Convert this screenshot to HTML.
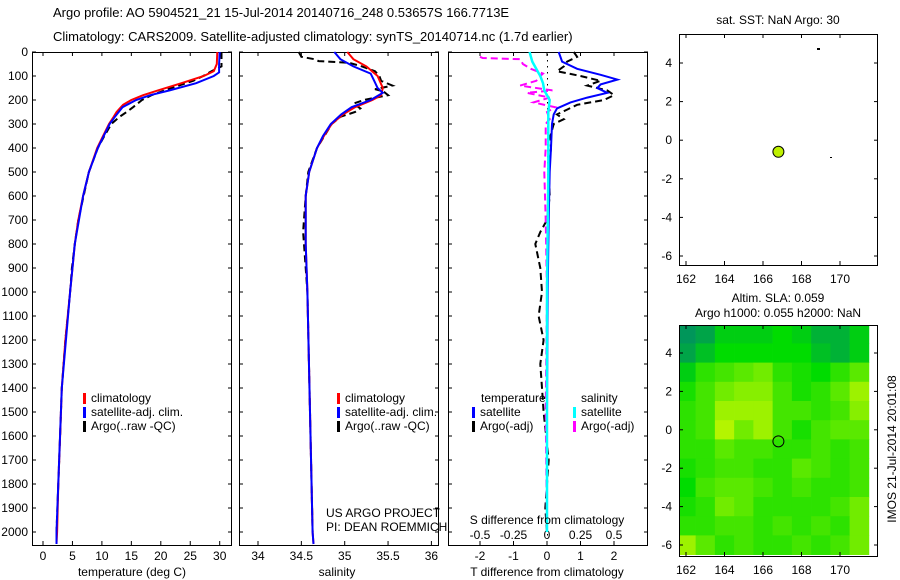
<!DOCTYPE html>
<html><head><meta charset="utf-8"><style>
html,body{margin:0;padding:0;background:#fff;}
svg{display:block;font-family:"Liberation Sans",sans-serif;}
</style></head><body>
<svg id="c" width="900" height="580" xmlns="http://www.w3.org/2000/svg"></svg>
<script>
// ---- data ----
const depthTicks=[0,100,200,300,400,500,600,700,800,900,1000,1100,1200,1300,1400,1500,1600,1700,1800,1900,2000];
const tTicks=[0,5,10,15,20,25,30];
const sTicks=[34,34.5,35,35.5,36];
const tdTicks=[-2,-1,0,1,2];
const sdTicks=[-0.5,-0.25,0,0.25,0.5];
const sdTickLabels=["-0.5","-0.25","0","0.25","0.5"];
const latTicks=[4,2,0,-2,-4,-6];
const lonTicks=[162,164,166,168,170];

const tClimD=[0,50,80,100,130,160,180,200,220,250,270,300,350,400,450,500,600,700,800,900,1000,1200,1400,1600,1800,2000,2050];
const tClimV=[29.6,29.5,29.0,27.3,23.5,19.5,17.0,15.0,13.6,12.5,12.0,11.2,10.2,9.2,8.5,7.8,6.8,6.0,5.4,5.0,4.6,3.8,3.2,2.9,2.6,2.4,2.3];
const tSatD=[0,50,85,100,130,160,180,200,230,270,300,350,400,500,600,800,1000,1400,2000,2050];
const tSatV=[30.0,29.9,29.9,29.0,26.0,21.5,18.2,15.8,13.5,12.2,11.3,10.3,9.3,7.8,6.8,5.4,4.6,3.2,2.3,2.3];
const tArgD=[0,60,80,100,120,150,180,200,230,250,270,300,350,400,500,600,700,800,900,1000,1200,1400,1600,1800,2000];
const tArgV=[30.3,30.3,28.6,27.2,25.5,21.8,18.4,16.8,15.3,14.2,13.0,11.6,10.4,9.3,7.8,6.9,6.0,5.4,4.9,4.6,3.8,3.2,2.9,2.6,2.3];

const sClimD=[0,30,60,100,150,180,200,230,260,300,350,400,500,600,800,1000,1500,2000,2050];
const sClimV=[35.03,35.10,35.25,35.38,35.44,35.42,35.32,35.12,34.98,34.85,34.76,34.68,34.59,34.55,34.55,34.57,34.60,34.63,34.64];
const sSatD=[0,30,60,90,120,150,170,200,230,260,300,350,400,500,600,800,1000,1500,2000,2050];
const sSatV=[34.88,34.95,35.1,35.3,35.34,35.38,35.44,35.3,35.08,34.96,34.84,34.75,34.68,34.59,34.55,34.55,34.57,34.60,34.63,34.64];
const sArgD=[0,20,30,38,45,60,80,100,120,140,155,165,180,200,215,235,250,270,300,400,500,600,750,800,1000,1500,2000];
const sArgV=[34.47,34.5,34.65,34.7,35.05,35.2,35.35,35.4,35.42,35.55,35.35,35.45,35.5,35.22,35.1,35.18,35.12,34.95,34.85,34.68,34.58,34.55,34.52,34.53,34.57,34.6,34.63];

const dTSatD=[0,40,70,95,115,135,150,170,190,210,235,260,300,400,500,700,1000,1500,2000];
const dTSatV=[0.35,0.45,0.9,1.6,2.1,1.6,1.5,1.8,1.2,0.7,0.3,0.2,0.15,0.12,0.08,0.05,0.02,0.0,0.0];
const dTArgD=[0,20,40,60,80,100,120,140,160,180,200,220,240,260,280,300,350,400,500,600,700,750,800,900,1000,1100,1200,1300,1400,1500,1700,1900,2000];
const dTArgV=[0.8,0.9,0.6,0.5,0.3,1.0,1.6,1.2,1.8,2.0,1.7,0.9,0.6,0.3,0.5,0.2,0.1,0.12,0.05,0.08,0.0,-0.2,-0.35,-0.2,-0.15,-0.25,-0.1,-0.2,-0.15,-0.1,0.05,-0.05,0.0];
const dSSatD=[0,20,40,60,80,100,130,160,200,250,300,500,1000,2000];
const dSSatV=[-0.13,-0.12,-0.11,-0.09,-0.07,-0.05,-0.03,-0.02,0.02,0.01,0.01,0.01,0.0,0.0];
const dSArgD=[20,25,30,50,70,90,100,120,140,160,170,190,210,230,250,280,300,400,500,700,1000,1500,2000];
const dSArgV=[-0.5,-0.48,-0.2,-0.18,-0.12,-0.03,-0.05,-0.08,-0.2,0.04,-0.15,0.02,-0.1,0.06,0.0,0.02,-0.01,-0.01,-0.02,-0.01,0.0,-0.01,0.0];

const slaLats=[5,4,3,2,1,0,-1,-2,-3,-4,-5,-6];
const slaLons=[162,163,164,165,166,167,168,169,170,171];
const slaVals=[
[0.1,0.15,0.3,0.3,0.3,0.35,0.3,0.2,0.2,0.3],
[0.15,0.25,0.35,0.35,0.35,0.35,0.35,0.25,0.2,0.3],
[0.3,0.45,0.5,0.55,0.6,0.45,0.4,0.35,0.45,0.55],
[0.4,0.5,0.6,0.65,0.65,0.5,0.4,0.45,0.55,0.7],
[0.45,0.5,0.7,0.7,0.7,0.5,0.5,0.45,0.5,0.65],
[0.45,0.5,0.75,0.6,0.7,0.5,0.4,0.5,0.55,0.55],
[0.45,0.45,0.55,0.5,0.5,0.45,0.45,0.5,0.45,0.5],
[0.4,0.45,0.5,0.5,0.45,0.45,0.55,0.5,0.45,0.5],
[0.35,0.5,0.55,0.55,0.5,0.45,0.5,0.45,0.45,0.5],
[0.4,0.45,0.6,0.55,0.45,0.45,0.45,0.45,0.5,0.6],
[0.45,0.45,0.5,0.5,0.45,0.5,0.45,0.5,0.45,0.6],
[0.7,0.55,0.45,0.5,0.45,0.45,0.5,0.45,0.5,0.6]];
const floatLon=166.8, floatLat=-0.6;

// ---- helpers ----
const NS="http://www.w3.org/2000/svg";
const svg=document.getElementById('c');
function el(tag,attrs,parent){const e=document.createElementNS(NS,tag);for(const k in attrs)e.setAttribute(k,attrs[k]);(parent||svg).appendChild(e);return e;}
function txt(x,y,s,anchor,size){const t=el('text',{x:x,y:y,'font-size':size||12,'text-anchor':anchor||'start',fill:'#000'});t.textContent=s;return t;}
const yD=d=>52+d*0.24;
const xT=v=>43+v*5.89;
const xS=v=>258+(v-34)*86.7;
const xTD=v=>547+v*33.5;
const xSD=v=>547+v*134;

function frame(x0,y0,x1,y1,name){
  const r=el('rect',{x:x0+.5,y:y0+.5,width:x1-x0,height:y1-y0,fill:'none',stroke:'#000','stroke-width':1});
  
  
}
function series(D,V,xf,color,dash,name,w){
  const p=D.map((d,i)=>xf(V[i]).toFixed(1)+','+yD(d).toFixed(1)).join(' ');
  const a={points:p,fill:'none',stroke:color,'stroke-width':w||2};
  if(dash)a['stroke-dasharray']=dash;
  const e=el('polyline',a);
  
  
}
function depthTicksOn(x0,x1,labels){
  depthTicks.forEach(d=>{
    const y=yD(d);
    el('line',{x1:x0,y1:y,x2:x0+4,y2:y,stroke:'#000'});
    el('line',{x1:x1-4,y1:y,x2:x1,y2:y,stroke:'#000'});
    if(labels){const t=txt(x0-4,y+4,String(d),'end');}
  });
}
function xTicks(vals,labels,xf,yb,yt,ly){
  vals.forEach((v,i)=>{
    const x=xf(v);
    el('line',{x1:x,y1:yb,x2:x,y2:yb-4,stroke:'#000'});
    if(yt!==null)el('line',{x1:x,y1:yt,x2:x,y2:yt+4,stroke:'#000'});
    const t=txt(x,ly,labels[i],'middle');
    
    
  });
}
function legend(x,y,items){
  items.forEach((it,i)=>{
    el('rect',{x:x,y:y+i*14-9,width:3,height:11,fill:it[1]});
    const t=txt(x+8,y+i*14,it[0]);
    
    
  });
}

// ---- titles ----
let t=txt(53,17,'Argo profile: AO 5904521_21 15-Jul-2014 20140716_248 0.53657S 166.7713E','start',13);

t=txt(53,41,'Climatology: CARS2009. Satellite-adjusted climatology: synTS_20140714.nc (1.7d earlier)','start',13);


// ---- panel 1 temperature ----
frame(32,52,231,545,'temperature-panel');
depthTicksOn(32,232,true);
xTicks(tTicks,tTicks.map(String),xT,545,52,560);
series(tArgD,tArgV,xT,'#000','7,4','argo-temperature-line');
series(tClimD,tClimV,xT,'#f00',null,'climatology-temperature-line');
series(tSatD,tSatV,xT,'#00f',null,'satellite-temperature-line');
t=txt(132,576,'temperature (deg C)','middle');
legend(83,402,[['climatology','#f00'],['satellite-adj. clim.','#00f'],['Argo(..raw -QC)','#000']]);

// ---- panel 2 salinity ----
frame(239,52,438,545,'salinity-panel');
depthTicksOn(239,439,false);
xTicks(sTicks,sTicks.map(String),xS,545,52,560);
series(sArgD,sArgV,xS,'#000','7,4','argo-salinity-line');
series(sClimD,sClimV,xS,'#f00',null,'climatology-salinity-line');
series(sSatD,sSatV,xS,'#00f',null,'satellite-salinity-line');
t=txt(337,576,'salinity','middle');
legend(337,402,[['climatology','#f00'],['satellite-adj. clim.','#00f'],['Argo(..raw -QC)','#000']]);
t=txt(326,517,'US ARGO PROJECT');
t=txt(326,531,'PI: DEAN ROEMMICH');

// ---- panel 3 differences ----
frame(448,52,647,545,'difference-panel');
depthTicksOn(448,648,false);
for(let y=54;y<540;y+=6)el('rect',{x:547,y:y,width:1,height:1.5,fill:'#000'});
xTicks(tdTicks,tdTicks.map(String),xTD,545,52,560);
sdTicks.forEach((v,i)=>{const tt=txt(xSD(v),539,sdTickLabels[i],'middle');});
series(dTArgD,dTArgV,xTD,'#000','7,4','argo-temperature-difference-line');
series(dSArgD,dSArgV,xSD,'#f0f','7,4','argo-salinity-difference-line');
series(dTSatD,dTSatV,xTD,'#00f',null,'satellite-temperature-difference-line');
series(dSSatD,dSSatV,xSD,'#0ff',null,'satellite-salinity-difference-line',2.5);
t=txt(547,576,'T difference from climatology','middle');
t=txt(547,524,'S difference from climatology','middle');
t=txt(481,402,'temperature');
t=txt(581,402,'salinity');
legend(472,416,[['satellite','#00f'],['Argo(-adj)','#000']]);
legend(573,416,[['satellite','#0ff'],['Argo(-adj)','#f0f']]);

// ---- maps ----
function mapAxes(x0,y0,x1,y1,latAt4,latAtM6,name,labelLon){
  const yL=v=>latAt4+(4-v)*(latAtM6-latAt4)/10;
  const xL=v=>686+(v-162)*19.25;
  frame(x0,y0,x1,y1,name);
  latTicks.forEach(v=>{const y=yL(v);el('line',{x1:x0,y1:y,x2:x0+4,y2:y,stroke:'#000'});el('line',{x1:x1-3,y1:y,x2:x1+1,y2:y,stroke:'#000'});
    const tt=txt(x0-7,y+4,String(v),'end');});
  lonTicks.forEach(v=>{const x=xL(v);el('line',{x1:x,y1:y1,x2:x,y2:y1-4,stroke:'#000'});el('line',{x1:x,y1:y0,x2:x,y2:y0+4,stroke:'#000'});
    if(labelLon){const tt=txt(x,y1+18,String(v),'middle');}});
  return {xL,yL};
}
// bottom SLA map heat cells
(function(){
  const yL=v=>353+(4-v)*19.2, xL=v=>686+(v-162)*19.25;
  const g=el('g',{'clip-path':'url(#mc)'});
  const cp=el('clipPath',{id:'mc'});el('rect',{x:679,y:325,width:199,height:232},cp);
  function col(v){
    let r,gg,b;
    if(v<0.35){const f=Math.max(0,(v-0.1)/0.25);r=0;gg=150+f*70;b=90-f*90;}
    else{const f=Math.min(1,(v-0.35)/0.4);r=f*180;gg=220+f*25;b=0;}
    return 'rgb('+Math.round(r)+','+Math.round(gg)+','+Math.round(b)+')';
  }
  slaLats.forEach((la,i)=>slaLons.forEach((lo,j)=>{
    const c=el('rect',{x:xL(lo-0.5),y:yL(la+0.5),width:19.6,height:19.6,fill:col(slaVals[i][j])},g);
    
    
  }));
  const m=el('circle',{cx:xL(floatLon),cy:yL(floatLat),r:5.5,fill:'none',stroke:'#000'});
  
})();
mapAxes(679,325,877,556,353,545,'sla-map',true);
(function(){
  const a=mapAxes(679,34,877,265,63,256,'sst-map',true);
  const m=el('circle',{cx:a.xL(floatLon),cy:a.yL(floatLat),r:5.5,fill:'#bef000',stroke:'#000'});
  
  el('rect',{x:817,y:48,width:3,height:2,fill:'#000'});
  el('rect',{x:830,y:157,width:2,height:1,fill:'#000'});
})();
t=txt(778,24,'sat. SST: NaN  Argo: 30','middle');
t=txt(778,302,'Altim. SLA: 0.059','middle');
t=txt(778,317,'Argo h1000: 0.055 h2000: NaN','middle');
t=el('text',{x:0,y:0,'font-size':12,'text-anchor':'middle',transform:'translate(896,449) rotate(-90)'});
t.textContent='IMOS 21-Jul-2014 20:01:08';

</script>
</body></html>
